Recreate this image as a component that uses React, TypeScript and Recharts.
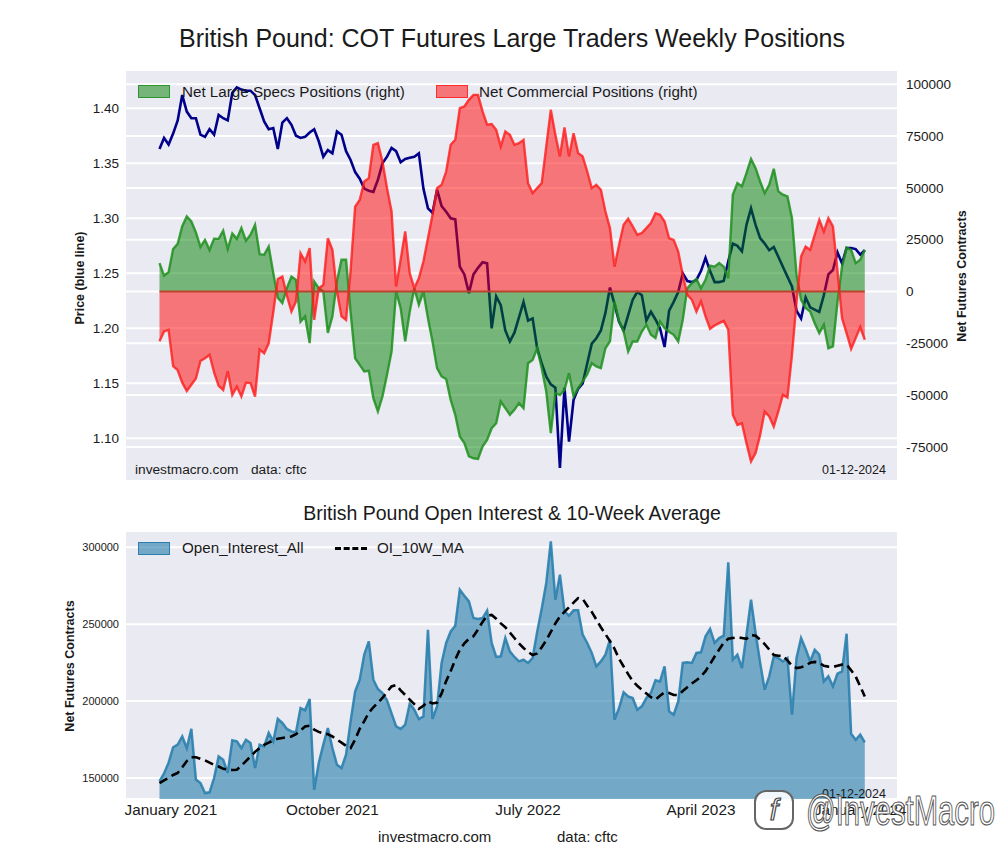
import React from 'react';
import { ComposedChart, Line, Area, XAxis, YAxis, CartesianGrid, ReferenceLine } from 'recharts';

// weekly COT data, week 0 = 19 Jan 2021 ... week 155 = 9 Jan 2024
const price = [
  1.363, 1.373, 1.367, 1.377, 1.389, 1.412, 1.397, 1.391, 1.391, 1.376,
  1.374, 1.381, 1.376, 1.394, 1.391, 1.389, 1.414, 1.419, 1.417, 1.416,
  1.416, 1.412, 1.4, 1.388, 1.381, 1.382, 1.363, 1.387, 1.391, 1.385,
  1.375, 1.373, 1.374, 1.378, 1.381, 1.37, 1.356, 1.362, 1.359, 1.379,
  1.376, 1.361, 1.353, 1.342, 1.336, 1.327, 1.325, 1.324, 1.335, 1.35,
  1.356, 1.364, 1.361, 1.351, 1.354, 1.355, 1.356, 1.359, 1.327, 1.309,
  1.305, 1.326, 1.311, 1.306, 1.3, 1.299, 1.256, 1.249, 1.232, 1.249,
  1.255, 1.26, 1.259, 1.2, 1.229, 1.221, 1.198, 1.188, 1.196, 1.21,
  1.224, 1.207, 1.209, 1.182, 1.168, 1.156, 1.149, 1.146, 1.073, 1.146,
  1.097, 1.135, 1.145, 1.15, 1.168, 1.186, 1.191, 1.198, 1.214, 1.237,
  1.222, 1.206, 1.198, 1.212, 1.226, 1.233, 1.23, 1.207, 1.215, 1.208,
  1.2, 1.183, 1.216, 1.224, 1.233, 1.25, 1.243, 1.242, 1.244, 1.252,
  1.264, 1.252, 1.242, 1.242, 1.243, 1.261, 1.277, 1.275, 1.27, 1.294,
  1.309, 1.294, 1.282, 1.277, 1.271, 1.274, 1.265, 1.256, 1.247, 1.238,
  1.216, 1.209, 1.228, 1.219, 1.217, 1.215, 1.23, 1.249, 1.253, 1.269,
  1.259, 1.273, 1.273, 1.272, 1.267, 1.271,
];

const largeSpecs = [
  13700, 7700, 9300, 20500, 23000, 31500, 36200, 33800, 28500, 21500,
  24900, 20000, 25500, 25400, 29300, 20500, 28000, 25400, 30600, 24500,
  27400, 32200, 18000, 17700, 21700, 9000, -3000, -5600, 1600, 7200,
  5600, -14500, -12000, -24900, 4800, 1600, 0, -20000, -12000, 5000,
  15300, 15300, -10000, -32200, -35400, -38600, -38300, -51500, -57900, -50700,
  -40200, -29000, 0, -8000, -24100, -9700, 1600, -6400, 0, -12900,
  -24100, -37000, -41000, -42200, -52300, -59500, -70000, -73200, -79600, -80500,
  -80800, -74800, -71600, -66000, -63600, -53100, -56300, -59500, -57100, -53900,
  -56300, -34600, -33000, -27400, -37000, -48300, -68400, -49000, -50000, -47500,
  -39400, -50700, -46700, -43400, -40000, -34600, -36200, -37000, -27400, -24100,
  -4800, -14500, -19300, -29000, -24100, -24100, -19300, -16100, -20900, -22500,
  -14500, -17700, -19500, -20900, -24100, -13700, 1600, 4000, 6000, 1500,
  5600, 12500, 12000, 13700, 12000, 6400, 46700, 52300, 50700, 57100,
  64000, 59500, 53100, 47500, 51500, 59200, 48300, 46700, 45900, 35400,
  8000, -4000, -8000, -9700, -15300, -20100, -16100, -27400, -26500, -5000,
  12000, 21200, 20100, 13700, 15300, 20100,
];

const commercial = [
  -24000, -19300, -18500, -36000, -38000, -44000, -48000, -45000, -42000, -33500,
  -32200, -30500, -39000, -45500, -47500, -38500, -49900, -45900, -50700, -44000,
  -44200, -50700, -28000, -29800, -25000, -10000, 6000, 7200, -2000, -9700,
  -4800, 18500, 14500, 20900, -13700, 1600, 3200, 25700, 20100, 0,
  -12000, -13700, 10000, 41000, 44200, 53100, 54700, 70800, 71600, 62700,
  49900, 38600, 2400, 15300, 29000, 8800, 1600, 6400, 14500, 25700,
  37000, 49900, 51500, 57900, 70800, 73200, 88500, 89300, 92500, 94900,
  94900, 86900, 80500, 80800, 78000, 70000, 77200, 75600, 70800, 71600,
  73200, 52300, 47500, 49900, 52300, 70000, 87700, 75600, 65200, 79200,
  65200, 76400, 66800, 65200, 57900, 49900, 51500, 49100, 38600, 30600,
  12000, 22500, 32200, 35100, 31400, 27400, 28200, 30600, 33000, 37800,
  37000, 33800, 25700, 24900, 19300, 8000, -1600, -4000, -9700, -4800,
  -12000, -18000, -16400, -15300, -14200, -18500, -59500, -64400, -63600, -73200,
  -82000, -78000, -69200, -57900, -60300, -65200, -57900, -49900, -51200, -30600,
  -5000, 16900, 21700, 20100, 27400, 34600, 29000, 35400, 31400, 10000,
  -12900, -20100, -27700, -22500, -17200, -23300,
];

const openInterest = [
  147800, 153000, 160000, 170000, 171700, 177000, 169500, 182000, 149000, 146700,
  140200, 140700, 150000, 164000, 161900, 153300, 174500, 173800, 169500, 174900,
  172800, 156500, 171700, 170600, 179300, 173800, 188400, 185800, 181900, 180300,
  179700, 195500, 194000, 201400, 142400, 159800, 171700, 182500, 169500, 158700,
  156500, 165200, 186800, 206300, 213900, 230200, 238800, 213900, 207900, 205300,
  200500, 192000, 183600, 181900, 184700, 198300, 194400, 188400, 190000, 246400,
  188400, 196600, 224800, 237800, 245300, 249000, 272400, 268500, 264800, 254000,
  253400, 254000, 258800, 237800, 228700, 229100, 241000, 232300, 228700, 225800,
  226900, 224800, 228000, 245000, 260000, 276800, 303900, 265900, 282200, 258400,
  255500, 259000, 259000, 243200, 237800, 231300, 222600, 225800, 230200, 239900,
  187900, 195500, 205700, 203100, 202000, 194400, 196600, 202000, 205300, 213500,
  212800, 222600, 193300, 191200, 199800, 224800, 225200, 224800, 231300, 231700,
  242100, 246900, 237800, 241000, 242500, 290200, 226900, 230200, 221500, 243000,
  265900, 244300, 225000, 207400, 216100, 229100, 228000, 225800, 228000, 191200,
  228000, 241000, 233900, 225800, 233400, 230200, 212800, 216100, 209600, 217800,
  219300, 243800, 178800, 174900, 178200, 173200,
];

const oi10wMa = [
  146700, 148500, 150000, 152000, 153300, 157000, 161000, 163500, 163500, 162500,
  161500, 160000, 158500, 157500, 156000, 155500, 155200, 155400, 158000, 161000,
  164000, 167000, 169500, 171500, 173000, 174500, 175500, 176000, 176500, 177000,
  178500, 181000, 183500, 184000, 181500, 180000, 179000, 178500, 177000, 175000,
  173000, 171000, 169500, 175000, 182000, 187000, 192500, 196000, 199000, 202000,
  206000, 209500, 210500, 207000, 204000, 201000, 198000, 195000, 197000, 199800,
  198500, 199000, 205000, 213000, 219500, 227000, 233400, 237500, 240500, 242100,
  246500, 251500, 255500, 256000, 253500, 250500, 248000, 244500, 241000, 237500,
  234500, 232000, 230000, 231000, 235000, 239500, 245000, 250500, 255000, 258000,
  261000, 264000, 267000, 266500, 262000, 258000, 253000, 248000, 243500, 239000,
  234000, 227500, 222500, 217500, 213000, 210000, 207400, 205000, 202500, 201000,
  203500, 205700, 205300, 204000, 204000, 206500, 209000, 211500, 213500, 216000,
  219500, 224000, 229000, 233500, 238000, 240500, 241000, 241500, 241000, 240500,
  243000, 242500, 240000, 237000, 233500, 230000, 229500, 229500, 226500, 223000,
  221500, 222000, 223000, 225000, 225500, 225000, 223000, 222400, 222200, 223000,
  223700, 223700, 220000, 216000, 209600, 203000,
];

// axis ticks (x in week numbers)
const gridWeeks = [-2.57, 14.57, 32.14, 49.57, 66.71, 84.29, 101.71, 118.86, 136.43, 153.86];
const dateLabelWeeks = [2.5, 38, 81, 119, 154];
const dateLabels = ['January 2021', 'October 2021', 'July 2022', 'April 2023', 'January 2024'];
const priceTicks = [1.1, 1.15, 1.2, 1.25, 1.3, 1.35, 1.4];
const netTicks = [-75000, -50000, -25000, 0, 25000, 50000, 75000, 100000];
const oiTicks = [150000, 200000, 250000, 300000];

const X_DOMAIN: [number, number] = [-7.58, 162.3];
const FONT = '"Liberation Sans", Arial, sans-serif';
const BG = '#EAEAF2';
const INK = '#1a1a1a';

const positions = price.map((p, i) => ({
  week: i,
  price: p,
  specs: largeSpecs[i],
  commercial: commercial[i],
}));

const oiRows = openInterest.map((v, i) => ({ week: i, oi: v, ma: oi10wMa[i] }));
const lastWeek = positions.length - 1;

type TxtProps = {
  x: number;
  y: number;
  size: number;
  children: React.ReactNode;
  center?: boolean;
  bold?: boolean;
  rotate?: boolean;
  color?: string;
};

const Txt = ({ x, y, size, children, center, bold, rotate, color }: TxtProps) => (
  <div
    style={{
      position: 'absolute',
      left: x,
      top: y,
      fontSize: size,
      fontWeight: bold ? 700 : 400,
      color: color ?? INK,
      whiteSpace: 'nowrap',
      lineHeight: 1,
      transform: `translate(${center || rotate ? '-50%' : '0'}, -50%)${rotate ? ' rotate(-90deg)' : ''}`,
    }}
  >
    {children}
  </div>
);

const Swatch = ({ x, y, fill, stroke }: { x: number; y: number; fill: string; stroke: string }) => (
  <div
    style={{
      position: 'absolute',
      left: x,
      top: y,
      width: 30,
      height: 11,
      background: fill,
      border: `1.5px solid ${stroke}`,
    }}
  />
);

export default function App() {
  return (
    <div
      style={{
        position: 'absolute',
        left: 0,
        top: 0,
        width: 1000,
        height: 860,
        background: '#fff',
        fontFamily: FONT,
        overflow: 'hidden',
      }}
    >
      <Txt x={512} y={38} size={25} center>
        British Pound: COT Futures Large Traders Weekly Positions
      </Txt>

      {/* top panel: price + net positions */}
      <div style={{ position: 'absolute', left: 0, top: 0 }}>
        <ComposedChart width={1000} height={490} data={positions} margin={{ top: 70, right: 0, bottom: 9, left: 0 }}>
          <XAxis
            dataKey="week"
            type="number"
            domain={X_DOMAIN}
            ticks={gridWeeks}
            tick={false}
            tickLine={false}
            axisLine={false}
            height={0}
          />
          <YAxis
            yAxisId="price"
            domain={[1.0612, 1.4348]}
            ticks={priceTicks}
            tickFormatter={(v: number) => v.toFixed(2)}
            width={125}
            tickLine={false}
            tickSize={0}
            tickMargin={6}
            axisLine={false}
            tick={{ fontSize: 13.5, fill: INK }}
          />
          <YAxis
            yAxisId="net"
            orientation="right"
            domain={[-91460, 106900]}
            ticks={netTicks}
            width={102}
            tickLine={false}
            tickSize={0}
            tickMargin={8}
            axisLine={false}
            tick={{ fontSize: 13.5, fill: INK }}
          />
          <CartesianGrid yAxisId="price" fill={BG} stroke="#fff" strokeWidth={2} />
          <CartesianGrid yAxisId="net" vertical={false} stroke="#fff" strokeWidth={2} />
          <Line
            yAxisId="price"
            dataKey="price"
            type="linear"
            stroke="#00008B"
            strokeWidth={2.6}
            dot={false}
            activeDot={false}
            zIndex={50}
            isAnimationActive={false}
          />
          <Area
            yAxisId="net"
            dataKey="specs"
            type="linear"
            baseValue={0}
            fill="#008000"
            fillOpacity={0.5}
            stroke="#1f8f1f"
            strokeOpacity={0.85}
            strokeWidth={2.4}
            dot={false}
            activeDot={false}
            isAnimationActive={false}
          />
          <Area
            yAxisId="net"
            dataKey="commercial"
            type="linear"
            baseValue={0}
            fill="#ff0000"
            fillOpacity={0.5}
            stroke="#ff1a1a"
            strokeOpacity={0.8}
            strokeWidth={2.4}
            dot={false}
            activeDot={false}
            isAnimationActive={false}
          />
          <ReferenceLine
            yAxisId="net"
            segment={[
              { x: 0, y: 0 },
              { x: lastWeek, y: 0 },
            ]}
            stroke="#b8432c"
            strokeWidth={2}
          />
        </ComposedChart>
      </div>

      <Swatch x={138} y={85} fill="rgba(0,128,0,0.5)" stroke="rgba(31,143,31,0.85)" />
      <Txt x={182} y={92} size={15.2}>Net Large Specs Positions (right)</Txt>
      <Swatch x={436} y={85} fill="rgba(255,0,0,0.5)" stroke="rgba(255,26,26,0.8)" />
      <Txt x={479} y={92} size={15.2}>Net Commercial Positions (right)</Txt>

      <Txt x={80} y={278} size={12.5} bold rotate>Price (blue line)</Txt>
      <Txt x={962} y={276} size={12.5} bold rotate>Net Futures Contracts</Txt>
      <Txt x={135} y={470} size={13.7}>investmacro.com</Txt>
      <Txt x={251} y={470} size={13.7}>data: cftc</Txt>
      <Txt x={822} y={470} size={12.5}>01-12-2024</Txt>

      {/* bottom panel: open interest */}
      <Txt x={512} y={514} size={19.5} center>British Pound Open Interest &amp; 10-Week Average</Txt>
      <div style={{ position: 'absolute', left: 0, top: 0 }}>
        <ComposedChart width={1000} height={860} data={oiRows} margin={{ top: 531, right: 102, bottom: 0, left: 0 }}>
          <XAxis
            xAxisId="grid"
            dataKey="week"
            type="number"
            domain={X_DOMAIN}
            ticks={gridWeeks}
            tick={false}
            tickLine={false}
            axisLine={false}
            height={0}
          />
          <XAxis
            xAxisId="dates"
            dataKey="week"
            type="number"
            domain={X_DOMAIN}
            ticks={dateLabelWeeks}
            tickFormatter={(v: number) => dateLabels[dateLabelWeeks.indexOf(v)] ?? ''}
            tickLine={false}
            tickSize={0}
            tickMargin={5}
            axisLine={false}
            height={61}
            interval={0}
            tick={{ fontSize: 15.3, fill: INK }}
          />
          <YAxis
            domain={[136360, 310580]}
            ticks={oiTicks}
            width={125}
            tickLine={false}
            tickSize={0}
            tickMargin={6}
            axisLine={false}
            tick={{ fontSize: 11, fill: INK }}
          />
          <CartesianGrid xAxisId="grid" fill={BG} stroke="#fff" strokeWidth={2} />
          <Area
            xAxisId="grid"
            dataKey="oi"
            type="linear"
            fill="#247caa"
            fillOpacity={0.6}
            stroke="#2a7fae"
            strokeOpacity={0.9}
            strokeWidth={2.5}
            dot={false}
            activeDot={false}
            isAnimationActive={false}
          />
          <Line
            xAxisId="grid"
            dataKey="ma"
            type="linear"
            stroke="#000"
            strokeWidth={2.6}
            strokeDasharray="9 5"
            dot={false}
            activeDot={false}
            isAnimationActive={false}
          />
        </ComposedChart>
      </div>

      <Swatch x={138} y={542} fill="rgba(36,124,170,0.6)" stroke="#2a7fae" />
      <Txt x={182} y={548} size={15.2}>Open_Interest_All</Txt>
      <div
        style={{ position: 'absolute', left: 335, top: 547, width: 32, borderTop: '3px dashed #000' }}
      />
      <Txt x={377} y={548} size={15.2}>OI_10W_MA</Txt>

      <Txt x={70} y={666} size={12.5} bold rotate>Net Futures Contracts</Txt>
      <Txt x={822} y={794} size={12.5}>01-12-2024</Txt>
      <Txt x={378} y={836} size={15}>investmacro.com</Txt>
      <Txt x={557} y={836} size={15}>data: cftc</Txt>

      {/* watermark */}
      <div
        style={{
          position: 'absolute',
          left: 754,
          top: 790,
          width: 40,
          height: 40,
          borderRadius: 12,
          border: '2px solid #666',
          background: 'rgba(255,255,255,0.9)',
          boxSizing: 'border-box',
          fontSize: 30,
          lineHeight: '36px',
          textAlign: 'center',
          color: '#fff',
          WebkitTextStroke: '1.2px #444',
          fontStyle: 'italic',
        }}
      >
        f
      </div>
      <div
        style={{
          position: 'absolute',
          left: 806,
          top: 789,
          fontSize: 43,
          lineHeight: 1,
          fontWeight: 300,
          whiteSpace: 'nowrap',
          color: 'rgba(255,255,255,0.92)',
          WebkitTextStroke: '1.2px #555',
          transform: 'scaleX(0.68)',
          transformOrigin: 'left center',
        }}
      >
        @InvestMacro
      </div>
    </div>
  );
}
